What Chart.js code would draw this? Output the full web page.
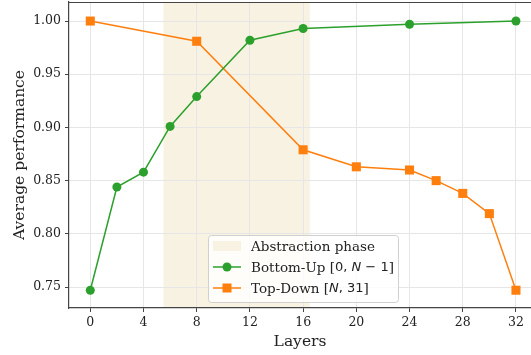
<!DOCTYPE html>
<html>
<head>
<meta charset="utf-8">
<script src="https://cdn.jsdelivr.net/npm/chart.js@4.4.1/dist/chart.umd.min.js"></script>
<style>
  html, body { margin: 0; padding: 0; background: #fff; overflow: hidden; }
  #wrap { width: 531px; height: 355px; }
</style>
</head>
<body>
<div id="wrap"><canvas id="c"></canvas></div>
<script>
// layers and scores
const bottomUpLayers = [0, 2, 4, 6, 8, 12, 16, 24, 32];
const bottomUpScores = [0.747, 0.844, 0.858, 0.901, 0.929, 0.982, 0.993, 0.997, 1.000];
const topDownLayers = [0, 8, 16, 20, 24, 26, 28, 30, 32];
const topDownScores = [1.000, 0.981, 0.879, 0.863, 0.860, 0.850, 0.838, 0.819, 0.747];
const abstractionPhase = [5.5, 16.5];
const xTicks = [0, 4, 8, 12, 16, 20, 24, 28, 32];
const yTicks = [0.75, 0.80, 0.85, 0.90, 0.95, 1.00];

const GREEN = "#2ca02c";
const ORANGE = "#ff7f0e";
const BAND = "#f8f2e2";
const SERIF = "'DejaVu Serif', serif";
const SANS = "'DejaVu Sans', sans-serif";

function toPoints(xs, ys) {
  return xs.map((x, i) => ({ x: x, y: ys[i] }));
}

// shaded band behind the grid, plus the top spine
const bandPlugin = {
  id: "band",
  beforeDraw(chart) {
    const { ctx, chartArea, scales } = chart;
    const x0 = scales.x.getPixelForValue(abstractionPhase[0]);
    const x1 = scales.x.getPixelForValue(abstractionPhase[1]);
    ctx.save();
    ctx.fillStyle = BAND;
    ctx.fillRect(x0, chartArea.top, x1 - x0, chartArea.bottom - chartArea.top);
    ctx.restore();
  },
  afterDraw(chart) {
    const { ctx, chartArea } = chart;
    ctx.save();
    ctx.strokeStyle = "#444";
    ctx.lineWidth = 1.2;
    ctx.beginPath();
    ctx.moveTo(chartArea.left, chartArea.top + 0.5);
    ctx.lineTo(chartArea.right, chartArea.top + 0.5);
    ctx.stroke();
    ctx.restore();
  }
};

// matplotlib-like legend
const legendPlugin = {
  id: "mplLegend",
  afterDraw(chart) {
    const ctx = chart.ctx;
    const bx = 208, by = 235, bw = 190, bh = 67;
    ctx.save();
    ctx.fillStyle = "rgba(255,255,255,0.8)";
    ctx.strokeStyle = "#d0d0d0";
    ctx.lineWidth = 1;
    ctx.beginPath();
    ctx.roundRect(bx + 0.5, by + 0.5, bw, bh, 3);
    ctx.fill();
    ctx.stroke();

    const rows = [246, 267, 288];
    const hx0 = 213, hx1 = 241, tx = 251;

    ctx.fillStyle = BAND;
    ctx.fillRect(hx0, rows[0] - 5, hx1 - hx0, 10);

    ctx.lineWidth = 1.5;
    ctx.strokeStyle = GREEN;
    ctx.beginPath(); ctx.moveTo(hx0, rows[1]); ctx.lineTo(hx1, rows[1]); ctx.stroke();
    ctx.fillStyle = GREEN;
    ctx.beginPath(); ctx.arc((hx0 + hx1) / 2, rows[1], 4.5, 0, Math.PI * 2); ctx.fill();

    ctx.strokeStyle = ORANGE;
    ctx.beginPath(); ctx.moveTo(hx0, rows[2]); ctx.lineTo(hx1, rows[2]); ctx.stroke();
    ctx.fillStyle = ORANGE;
    ctx.fillRect((hx0 + hx1) / 2 - 4.5, rows[2] - 4.5, 9, 9);

    ctx.fillStyle = "#222";
    ctx.textBaseline = "middle";
    ctx.textAlign = "left";
    const runs = [
      [["Abstraction phase", "13.5px " + SERIF]],
      [["Bottom-Up [", "13.5px " + SERIF], ["0, ", "13px " + SANS], ["N", "italic 13px " + SANS], [" \u2212 1", "13px " + SANS], ["]", "13.5px " + SERIF]],
      [["Top-Down [", "13.5px " + SERIF], ["N", "italic 13px " + SANS], [", 31", "13px " + SANS], ["]", "13.5px " + SERIF]]
    ];
    runs.forEach((parts, i) => {
      let x = tx;
      parts.forEach(([txt, font]) => {
        ctx.font = font;
        ctx.fillText(txt, x, rows[i] + 1);
        x += ctx.measureText(txt).width;
      });
    });
    ctx.restore();
  }
};

new Chart(document.getElementById("c"), {
  type: "line",
  data: {
    datasets: [
      {
        label: "Bottom-Up",
        data: toPoints(bottomUpLayers, bottomUpScores),
        borderColor: GREEN,
        backgroundColor: GREEN,
        borderWidth: 1.5,
        pointStyle: "circle",
        pointRadius: 4.5,
        pointBorderWidth: 0,
        tension: 0
      },
      {
        label: "Top-Down",
        data: toPoints(topDownLayers, topDownScores),
        borderColor: ORANGE,
        backgroundColor: ORANGE,
        borderWidth: 1.5,
        pointStyle: "rect",
        pointRadius: 6.4,
        pointBorderWidth: 0,
        tension: 0
      }
    ]
  },
  options: {
    responsive: true,
    maintainAspectRatio: false,
    animation: false,
    clip: false,
    layout: { autoPadding: false, padding: { top: 2, right: 0, left: 0, bottom: 0 } },
    plugins: { legend: { display: false }, tooltip: { enabled: false } },
    scales: {
      x: {
        type: "linear",
        min: -1.6,
        max: 33.13,
        afterFit(scale) {
          scale.height = 47;
          scale.paddingLeft = 0;
          scale.paddingRight = 0;
        },
        afterBuildTicks(scale) { scale.ticks = xTicks.map(v => ({ value: v })); },
        grid: { color: "#e6e6e6", lineWidth: 1, tickColor: "#444", tickLength: 4 },
        border: { color: "#444", width: 1.2 },
        ticks: { color: "#222", font: { family: SERIF, size: 12.5 }, padding: 3, maxRotation: 0 },
        title: { display: true, text: "Layers", color: "#222", font: { family: SERIF, size: 15.5 }, padding: { top: 0, bottom: 4 } }
      },
      y: {
        type: "linear",
        min: 0.7303,
        max: 1.0179,
        afterFit(scale) {
          scale.width = 69;
          scale.paddingTop = 0;
          scale.paddingBottom = 0;
        },
        afterBuildTicks(scale) { scale.ticks = yTicks.map(v => ({ value: v })); },
        grid: { color: "#e6e6e6", lineWidth: 1, tickColor: "#444", tickLength: 4 },
        border: { color: "#444", width: 1.2 },
        ticks: { color: "#222", font: { family: SERIF, size: 12.5 }, padding: 4, callback: v => v.toFixed(2) },
        title: { display: true, text: "Average performance", color: "#222", font: { family: SERIF, size: 15.5 }, padding: { top: 11, bottom: 0 } }
      }
    }
  },
  plugins: [bandPlugin, legendPlugin]
});
</script>
</body>
</html>
